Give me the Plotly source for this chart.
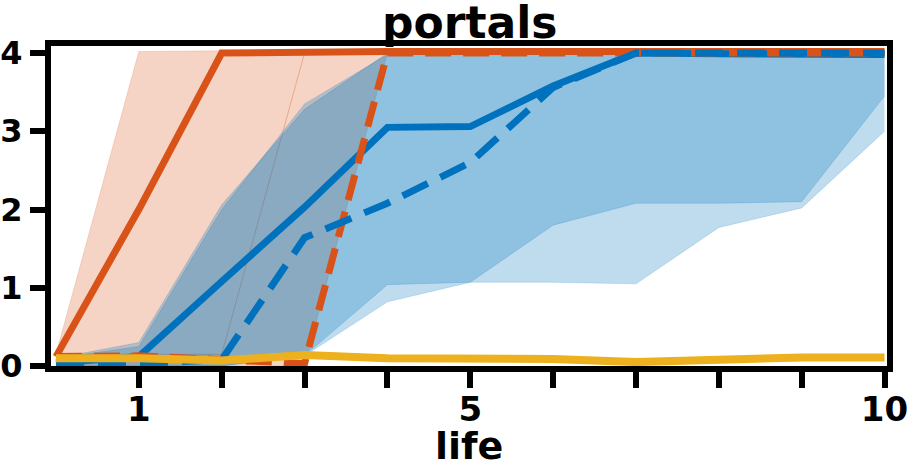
import plotly.graph_objects as go

life = [0, 1, 2, 3, 4, 5, 6, 7, 8, 9, 10]

# orange, solid
orange_solid = [0.12, 2.0, 4.0, 4.02, 4.02, 4.02, 4.02, 4.02, 4.02, 4.02, 4.02]
orange_solid_low = [0.1, 0.1, 0.15, 4.0, 4.0, 4.0, 4.0, 4.0, 4.0, 4.0, 4.0]
orange_solid_high = [0.15, 4.02, 4.03, 4.03, 4.03, 4.03, 4.03, 4.03, 4.03, 4.03, 4.03]

# orange, dashed
orange_dashed = [0.12, 0.13, 0.08, 0.03, 4.0, 4.0, 4.0, 4.0, 4.0, 4.0, 4.0]
orange_dashed_low = [0.0, 0.0, 0.0, 0.0, 4.0, 4.0, 4.0, 4.0, 4.0, 4.0, 4.0]
orange_dashed_high = [0.15, 0.15, 0.15, 4.0, 4.0, 4.0, 4.0, 4.0, 4.0, 4.0, 4.0]

# blue, solid
blue_solid = [0.04, 0.12, 1.08, 2.03, 3.05, 3.06, 3.58, 4.0, 3.99, 3.99, 3.98]
blue_solid_low = [0.0, 0.0, 0.0, 0.13, 1.04, 1.07, 1.8, 2.08, 2.08, 2.1, 3.45]
blue_solid_high = [0.1, 0.3, 2.06, 3.28, 4.0, 4.0, 4.0, 4.0, 4.0, 4.0, 4.0]

# blue, dashed
blue_dashed = [0.03, 0.03, 0.08, 1.64, 2.08, 2.6, 3.56, 4.0, 4.0, 4.0, 4.0]
blue_dashed_low = [0.0, 0.0, 0.0, 0.13, 0.82, 1.07, 1.07, 1.05, 1.77, 2.02, 3.0]
blue_dashed_high = [0.1, 0.25, 2.0, 3.35, 3.98, 3.98, 3.98, 3.98, 3.98, 3.98, 3.98]

# yellow
yellow = [0.1, 0.1, 0.07, 0.14, 0.1, 0.09, 0.09, 0.05, 0.08, 0.11, 0.11]

x_tick_vals = [1, 2, 3, 4, 5, 6, 7, 8, 9, 10]
x_tick_text = ['1', '', '', '', '5', '', '', '', '', '10']
y_tick_vals = [0, 1, 2, 3, 4]

ORANGE = '#D95319'
BLUE = '#0072BD'
YELLOW = '#EDB120'
FONT = 'DejaVu Sans'


def add_band(figure, low, high, rgb):
    figure.add_trace(go.Scatter(
        x=life, y=low, mode='lines',
        line={'width': 0.6, 'color': f'rgba({rgb},0.3)'},
        showlegend=False, hoverinfo='skip',
    ))
    figure.add_trace(go.Scatter(
        x=life, y=high, mode='lines', fill='tonexty',
        fillcolor=f'rgba({rgb},0.25)',
        line={'width': 0.6, 'color': f'rgba({rgb},0.3)'},
        showlegend=False, hoverinfo='skip',
    ))


def add_line(figure, values, color, dash='solid', width=7):
    figure.add_trace(go.Scatter(
        x=life, y=values, mode='lines',
        line={'width': width, 'color': color, 'dash': dash},
        showlegend=False,
    ))


def build_figure() -> go.Figure:
    figure = go.Figure()
    add_band(figure, orange_solid_low, orange_solid_high, '217,83,25')
    add_band(figure, orange_dashed_low, orange_dashed_high, '217,83,25')
    add_band(figure, blue_solid_low, blue_solid_high, '0,114,189')
    add_band(figure, blue_dashed_low, blue_dashed_high, '0,114,189')

    add_line(figure, orange_solid, ORANGE)
    add_line(figure, blue_solid, BLUE)
    add_line(figure, orange_dashed, ORANGE, dash='26px,12px')
    add_line(figure, blue_dashed, BLUE, dash='28px,14px')
    add_line(figure, yellow, YELLOW, width=8)

    figure.update_layout(
        width=914,
        height=472,
        margin={'l': 51, 'r': 27, 't': 46, 'b': 106, 'autoexpand': False},
        plot_bgcolor='white',
        paper_bgcolor='white',
        font={'family': FONT, 'color': 'black', 'weight': 'bold'},
        xaxis={
            'range': [-0.06, 10.03],
            'tickvals': x_tick_vals,
            'ticktext': x_tick_text,
            'ticks': 'outside', 'ticklen': 16, 'tickwidth': 6, 'tickcolor': 'black',
            'tickfont': {'size': 34, 'family': FONT, 'weight': 'bold'},
            'ticklabelstandoff': -8,
            'showline': True, 'linewidth': 6, 'linecolor': 'black', 'mirror': True,
            'showgrid': False, 'zeroline': False, 'automargin': False,
        },
        yaxis={
            'range': [0, 4.09],
            'tickvals': y_tick_vals,
            'ticks': 'outside', 'ticklen': 15, 'tickwidth': 6, 'tickcolor': 'black',
            'tickfont': {'size': 32, 'family': FONT, 'weight': 'bold'},
            'ticklabelstandoff': 1,
            'showline': True, 'linewidth': 6, 'linecolor': 'black', 'mirror': True,
            'showgrid': False, 'zeroline': False, 'automargin': False,
        },
        annotations=[
            {
                'text': 'portals', 'showarrow': False,
                'xref': 'paper', 'yref': 'paper', 'x': 0.5, 'y': 1.075,
                'xanchor': 'center', 'yanchor': 'middle',
                'font': {'size': 44, 'family': FONT, 'weight': 'bold'},
            },
            {
                'text': 'life', 'showarrow': False,
                'xref': 'paper', 'yref': 'paper', 'x': 0.5, 'y': -0.25,
                'xanchor': 'center', 'yanchor': 'middle',
                'font': {'size': 38, 'family': FONT, 'weight': 'bold'},
            },
        ],
    )
    return figure


fig = build_figure()
# drop the page's default body margin so the figure sits at the window corner
fig.write_html(
    'out.html',
    config={'displayModeBar': False},
    post_script="document.body.style.margin = '0';",
)
